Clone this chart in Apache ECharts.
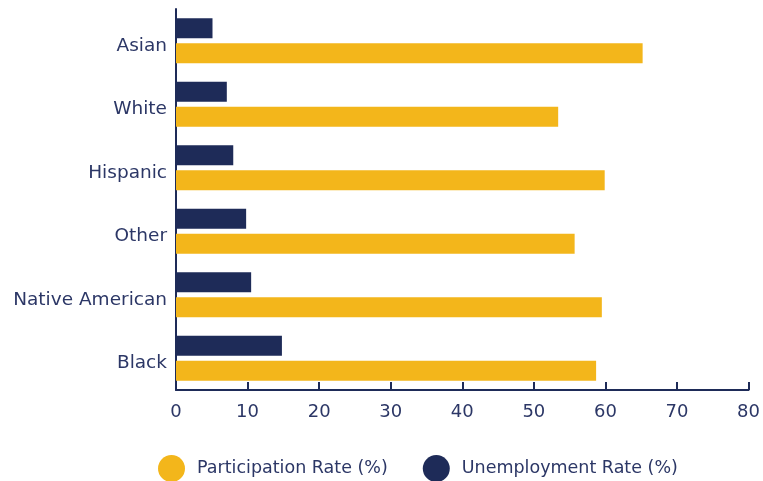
<!DOCTYPE html>
<html>
<head>
<meta charset="utf-8">
<script src="https://cdn.jsdelivr.net/npm/echarts@6/dist/echarts.min.js"></script>
<style>
  html, body { margin: 0; padding: 0; background: #ffffff; }
  #chart { width: 763px; height: 481px; }
</style>
</head>
<body>
<div id="chart"></div>
<script>
// Labor market indicators by race / ethnicity
const categories = ['Asian', 'White', 'Hispanic', 'Other', 'Native American', 'Black'];
const unemploymentRate = [5.1, 7.1, 8.0, 9.8, 10.5, 14.8];
const participationRate = [65.2, 53.4, 59.9, 55.7, 59.5, 58.7];
const xTicks = { min: 0, max: 80, interval: 10 };

const NAVY = '#1e2b58';
const GOLD = '#f3b61b';
const TEXT = '#2c3766';
const FONT = '"DejaVu Sans", "Noto Sans", sans-serif';

const chart = echarts.init(document.getElementById('chart'), null, { renderer: 'canvas' });

chart.setOption({
  animation: false,
  textStyle: { fontFamily: FONT },
  grid: { left: 176, right: 14, top: 9, bottom: 91, containLabel: false },
  legend: {
    data: ['Participation Rate (%)', 'Unemployment Rate (%)'],
    top: 455,
    left: 158,
    padding: 0,
    icon: 'circle',
    itemWidth: 27,
    itemHeight: 27,
    itemGap: 35,
    textStyle: { color: TEXT, fontSize: 17.5, fontFamily: FONT, padding: [0, 0, 0, 7] }
  },
  xAxis: {
    type: 'value',
    min: xTicks.min,
    max: xTicks.max,
    interval: xTicks.interval,
    splitLine: { show: false },
    axisLine: { show: true, lineStyle: { color: NAVY, width: 2 } },
    axisTick: { show: true, inside: true, length: 8, lineStyle: { color: NAVY, width: 2 } },
    axisLabel: { color: TEXT, fontSize: 18, margin: 13, fontFamily: FONT }
  },
  yAxis: {
    type: 'category',
    data: categories,
    inverse: true,
    axisLine: { show: true, lineStyle: { color: NAVY, width: 2 } },
    axisTick: { show: false },
    axisLabel: {
      margin: 9,
      formatter: (v) => '{c|' + v + '}',
      rich: {
        c: { color: TEXT, fontSize: 18.5, fontFamily: FONT, padding: [10, 0, 0, 0] }
      }
    }
  },
  series: [
    {
      name: 'Unemployment Rate (%)',
      type: 'bar',
      data: unemploymentRate,
      barWidth: 20,
      barGap: '25%',
      itemStyle: { color: NAVY }
    },
    {
      name: 'Participation Rate (%)',
      type: 'bar',
      data: participationRate,
      barWidth: 20,
      barGap: '25%',
      itemStyle: { color: GOLD }
    }
  ]
});
</script>
</body>
</html>
